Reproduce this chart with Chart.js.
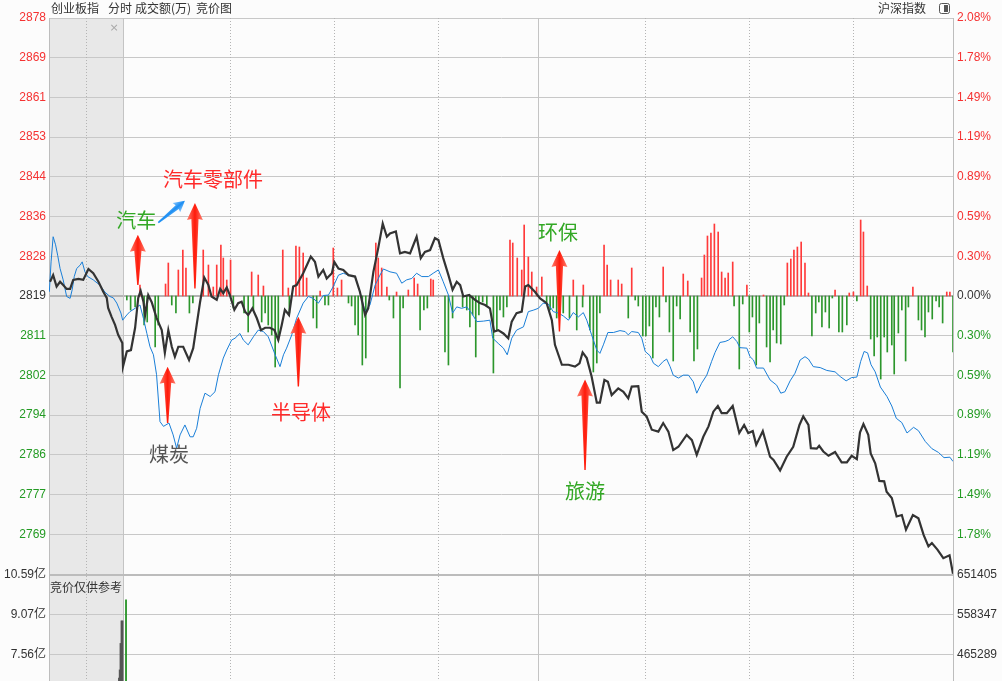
<!DOCTYPE html>
<html>
<head>
<meta charset="utf-8">
<script src="https://cdn.jsdelivr.net/npm/chart.js@4.4.1/dist/chart.umd.min.js"></script>
<style>
  html, body { margin: 0; padding: 0; background: #fcfcfc; overflow: hidden; }
  #wrap { position: relative; width: 1002px; height: 681px; }
</style>
</head>
<body>
<div id="wrap"><canvas id="fenshi" width="1002" height="681"></canvas></div>
<script>
// ---- data ----
const preClose = 2819.4;
const priceTop = 2878.04;
const priceLow = 2760.76;
const priceLabels = ['2878', '2869', '2861', '2853', '2844', '2836', '2828', '2819',
                     '2811', '2802', '2794', '2786', '2777', '2769'];
const pctLabels = ['2.08%', '1.78%', '1.49%', '1.19%', '0.89%', '0.59%', '0.30%', '0.00%',
                   '0.30%', '0.59%', '0.89%', '1.19%', '1.49%', '1.78%'];
const volTicks = [10.59, 9.07, 7.56];
const volLabels = ['10.59亿', '9.07亿', '7.56亿'];
const volRightLabels = ['651405', '558347', '465289'];

// minute (9:30 = 0, auction < 0), price
const indexAuction = [[-21.1,2822.4],[-20.2,2823.8],[-19.2,2821.4],[-18.2,2822.4],[-17.3,2821.7],[-16.3,2820.9],
  [-15.3,2820.9],[-14.4,2822.8],[-12.9,2823.0],[-11.5,2822.8],[-10.0,2825.1],[-8.6,2824.2],[-7.1,2822.4],
  [-5.7,2820.3],[-4.7,2819.0],[-4.3,2816.9],[-3.3,2815.0],[-2.3,2813.3],[-1.4,2811.2],[-0.2,2809.5]];
const indexTrade = [[0,2804.5],[1.1,2807.7],[2.3,2808.0],[3.5,2812.7],[4.4,2819.0],[5.1,2820.5],[5.9,2818.2],
  [6.4,2815.4],[7.3,2819.6],[8.3,2818.1],[9.7,2814.8],[11.2,2812.2],[12.1,2807.4],[13.1,2812.2],[14.1,2808.7],
  [15.0,2806.6],[16.0,2808.7],[17.4,2808.7],[19.1,2805.9],[20.3,2808.4],[21.3,2813.3],[22.3,2818.2],[23.5,2823.3],
  [24.7,2821.7],[25.6,2819.3],[27.1,2818.6],[28.1,2820.9],[29.0,2820.0],[30.0,2821.2],[30.9,2819.6],[32.2,2816.5],
  [33.3,2817.9],[34.3,2818.2],[35.3,2816.1],[36.2,2815.4],[37.4,2816.8],[38.7,2814.7],[39.9,2812.2],[41.1,2812.7],
  [42.5,2812.7],[43.8,2812.2],[44.9,2810.1],[45.9,2813.3],[46.8,2816.5],[48.0,2815.4],[49.2,2821.4],[50.2,2821.7],
  [52.1,2824.2],[54.3,2827.7],[55.5,2826.6],[56.5,2823.5],[57.9,2824.9],[58.9,2823.1],[60.4,2824.2],[61.1,2826.6],
  [62.3,2825.2],[63.7,2824.9],[65.2,2823.8],[67.1,2823.5],[68.5,2820.3],[70.0,2815.4],[70.9,2816.8],[72.4,2824.5],
  [73.8,2829.5],[75.1,2834.7],[76.3,2831.9],[77.2,2832.6],[78.9,2833.0],[80.1,2828.4],[81.5,2828.7],[83.0,2828.4],
  [84.9,2831.9],[86.1,2827.4],[87.3,2828.7],[88.8,2829.1],[90.2,2831.6],[91.2,2831.2],[92.6,2827.4],[94.1,2823.8],
  [95.3,2820.7],[96.5,2822.4],[97.5,2821.7],[98.4,2819.3],[100.1,2819.6],[101.8,2818.6],[103.2,2817.9],[104.7,2817.5],
  [106.1,2816.8],[107.3,2811.9],[108.5,2812.2],[110.0,2811.5],[111.4,2810.5],[112.4,2814.0],[113.8,2815.8],
  [115.3,2816.1],[116.3,2821.4],[117.2,2821.7],[119.1,2820.3],[120.6,2818.9],[122.5,2817.9],[124.0,2814.3],
  [124.9,2809.1],[126.9,2804.9],[128.8,2804.9],[130.7,2804.5],[132.0,2805.2],[132.9,2807.5],[134.1,2806.3],
  [135.5,2802.4],[137.0,2796.9],[137.9,2796.9],[139.2,2801.7],[140.2,2801.3],[141.3,2798.5],[143.2,2799.9],
  [144.7,2799.2],[146.1,2797.8],[147.1,2800.3],[149.0,2800.4],[150.0,2795.0],[151.4,2794.0],[152.9,2791.2],
  [154.8,2790.8],[156.2,2792.6],[157.7,2790.8],[159.1,2786.9],[160.6,2787.6],[163.0,2790.1],[164.5,2789.0],
  [165.9,2785.9],[167.8,2789.7],[169.3,2791.9],[170.7,2795.0],[172.0,2796.2],[173.1,2794.7],[174.6,2794.7],
  [176.3,2796.2],[178.2,2790.5],[179.6,2792.2],[180.8,2790.5],[182.1,2790.9],[183.1,2788.0],[185.0,2790.9],
  [187.1,2785.5],[188.1,2784.8],[190.0,2782.6],[191.9,2785.5],[193.8,2787.6],[195.6,2792.2],[196.7,2794.0],
  [198.2,2792.2],[198.9,2787.3],[200.6,2787.2],[201.3,2787.8],[202.5,2786.6],[204.0,2785.7],[205.9,2786.5],
  [207.8,2784.3],[209.3,2784.3],[210.7,2785.7],[212.2,2785.0],[213.1,2790.6],[214.1,2792.4],[215.5,2790.1],
  [216.2,2786.2],[217.5,2784.1],[218.7,2780.4],[220.1,2780.3],[220.8,2778.1],[222.3,2776.8],[223.7,2772.9],
  [225.2,2773.2],[226.4,2770.1],[228.4,2773.2],[230.0,2772.5],[231.5,2769.0],[232.9,2766.6],[233.9,2767.3],
  [235.5,2765.9],[237.2,2764.1],[239.0,2764.7],[240,2760.8]];

const leadAuction = [[-21.3,2820.3],[-20.8,2826.6],[-20.2,2831.9],[-19.5,2830.2],[-18.9,2828.0],[-18.2,2825.2],
  [-17.3,2822.8],[-16.3,2819.3],[-15.3,2818.9],[-14.7,2820.7],[-14.1,2823.5],[-13.4,2825.2],[-12.4,2825.9],
  [-11.8,2826.6],[-11.0,2824.5],[-10.2,2823.5],[-8.6,2822.8],[-6.7,2821.7],[-5.2,2820.2],[-3.8,2819.3],
  [-2.8,2819.0],[-1.8,2817.9],[-0.6,2815.8],[-0.1,2814.3]];
const leadTrade = [[1.1,2815.4],[2.0,2816.1],[3.5,2816.8],[4.9,2817.5],[5.9,2814.7],[6.9,2811.5],[7.8,2808.7],
  [8.8,2807.0],[9.7,2802.8],[10.7,2792.9],[11.7,2791.9],[13.3,2792.6],[14.5,2790.1],[15.5,2787.3],[16.5,2790.1],
  [17.9,2792.2],[19.4,2789.7],[20.3,2789.7],[21.3,2791.5],[22.3,2795.7],[23.7,2798.9],[25.2,2798.2],[26.6,2799.2],
  [27.6,2802.8],[29.0,2806.3],[30.0,2808.0],[31.4,2810.1],[32.4,2810.5],[33.8,2811.5],[34.8,2810.1],[36.2,2809.1],
  [37.7,2810.8],[39.1,2812.2],[40.6,2811.9],[42.0,2810.8],[44.0,2807.0],[45.4,2804.5],[46.4,2807.0],[47.3,2808.4],
  [48.8,2811.2],[50.2,2814.7],[52.1,2817.9],[53.6,2819.3],[55.0,2818.9],[56.5,2817.9],[57.9,2819.5],[59.4,2819.6],
  [60.8,2821.4],[62.3,2823.8],[63.7,2824.2],[65.2,2823.8],[67.1,2823.5],[68.5,2820.3],[70.0,2816.1],[71.4,2817.5],
  [72.9,2821.7],[74.3,2823.8],[75.3,2825.1],[77.2,2824.5],[79.1,2824.2],[80.6,2822.1],[82.0,2822.8],[83.5,2823.1],
  [84.9,2824.2],[86.4,2823.5],[88.3,2823.5],[89.7,2824.2],[91.2,2824.9],[92.6,2822.4],[94.1,2819.6],[95.3,2815.8],
  [96.5,2817.1],[97.9,2816.8],[99.4,2817.1],[100.8,2815.8],[102.3,2814.0],[104.2,2814.1],[106.1,2814.3],
  [106.9,2810.5],[108.5,2809.4],[110.0,2808.4],[111.1,2807.0],[112.4,2810.5],[113.8,2812.2],[115.8,2812.9],
  [117.2,2816.1],[118.6,2816.4],[120.1,2816.8],[121.5,2817.9],[123.0,2817.7],[124.4,2816.1],[125.9,2815.8],
  [127.3,2815.2],[128.8,2814.3],[130.2,2815.9],[131.7,2815.0],[133.1,2815.9],[134.1,2814.3],[135.5,2811.2],
  [137.0,2808.0],[137.9,2807.3],[138.9,2809.1],[140.2,2811.7],[141.8,2811.7],[143.7,2812.1],[145.2,2811.9],
  [146.1,2811.2],[147.1,2811.9],[149.0,2811.7],[150.0,2810.5],[151.0,2807.7],[152.4,2806.8],[153.4,2805.2],
  [154.8,2804.5],[156.2,2805.6],[157.2,2806.1],[158.2,2804.5],[159.1,2802.7],[160.6,2802.1],[162.0,2802.7],
  [163.5,2802.7],[164.9,2801.3],[165.9,2798.9],[167.3,2801.0],[168.8,2802.7],[170.2,2805.6],[171.2,2807.5],
  [172.6,2809.6],[174.1,2809.8],[175.1,2810.1],[176.3,2810.8],[177.5,2809.8],[178.4,2808.5],[180.4,2808.4],
  [181.3,2806.6],[182.3,2805.9],[183.2,2804.2],[185.2,2804.2],[187.1,2801.7],[189.0,2800.6],[190.2,2798.9],
  [191.4,2799.2],[192.9,2801.5],[194.3,2803.1],[195.8,2805.9],[197.2,2806.6],[198.2,2806.1],[199.6,2804.5],
  [201.6,2804.3],[203.5,2803.7],[205.9,2803.4],[207.4,2802.4],[209.1,2801.5],[210.7,2802.2],[212.2,2802.3],
  [213.3,2805.6],[214.3,2807.7],[215.3,2807.4],[216.3,2804.9],[217.5,2803.4],[219.0,2800.2],[220.9,2798.2],
  [222.3,2796.2],[223.6,2793.6],[225.2,2792.7],[226.7,2790.5],[228.6,2791.7],[230.0,2791.0],[232.0,2788.7],
  [233.9,2787.2],[235.8,2786.4],[237.4,2785.3],[239.1,2785.4],[240,2784.5]];

// buy/sell strength bars around the zero line (minute, strength)
const flowUp = [[4.9,11],[12.3,12],[13.1,33],[16.0,26],[17.3,46],[18.2,28],[23.2,46],[24.7,31],[26.1,9],[27.1,31],
  [28.3,51],[29.0,38],[30.0,16],[31.1,36],[37.2,24],[39.1,21],[40.6,10],[46.2,46],[47.8,8],[50.0,50],[51.0,49],
  [52.1,43],[53.1,18],[57.0,5],[60.8,48],[62.0,8],[63.2,16],[73.1,53],[73.8,38],[74.8,28],[76.3,9],[79.1,4],[82.5,6],
  [84.2,18],[85.2,12],[89.0,17],[89.7,16],[111.9,56],[112.7,53],[114.0,38],[115.3,26],[116.0,71],[117.2,39],
  [118.2,24],[119.6,9],[121.1,19],[130.2,16],[133.1,11],[139.1,51],[140.0,31],[141.0,16],[143.2,16],[144.2,12],
  [147.1,28],[156.2,29],[162.0,22],[163.3,15],[167.3,18],[168.1,41],[169.0,60],[170.0,63],[171.0,72],[172.1,64],
  [173.1,24],[174.1,18],[175.0,23],[176.3,34],[180.4,11],[185.2,1],[192.1,33],[193.1,37],[194.0,46],[195.0,49],
  [196.1,54],[197.2,33],[198.2,3],[205.9,6],[210.0,3],[211.2,4],[213.3,76],[214.1,64],[215.2,10],[228.4,9],
  [238.2,4],[239.1,4]];
const flowDown = [[1.1,-4],[2.2,-14],[3.5,-11],[6.1,-29],[7.0,-26],[9.3,-51],[10.2,-29],[14.1,-9],[15.3,-17],
  [19.2,-17],[20.2,-7],[31.9,-12],[35.0,-17],[36.2,-36],[37.7,-14],[40.1,-26],[41.1,-17],[42.0,-29],[43.0,-39],
  [44.0,-71],[44.9,-44],[48.1,-17],[55.0,-22],[56.0,-32],[58.4,-9],[59.4,-9],[65.2,-7],[66.1,-10],[67.1,-29],
  [68.0,-39],[69.2,-69],[70.2,-62],[77.0,-4],[78.2,-22],[80.1,-92],[81.0,-12],[85.9,-34],[87.0,-14],[88.0,-12],
  [93.1,-56],[94.1,-69],[95.3,-22],[98.2,-11],[99.4,-14],[100.3,-31],[101.1,-19],[102.0,-61],[102.9,-19],[104.0,-6],
  [105.2,-9],[107.1,-77],[108.1,-34],[109.0,-14],[110.0,-21],[111.0,-11],[122.5,-6],[123.5,-14],[124.4,-12],
  [125.4,-22],[127.3,-17],[129.1,-22],[131.2,-34],[132.9,-11],[135.0,-34],[136.0,-76],[137.0,-67],[137.9,-17],
  [146.1,-22],[148.1,-4],[149.0,-10],[150.3,-40],[151.2,-40],[152.2,-30],[153.2,-62],[154.1,-11],[155.1,-21],
  [157.0,-6],[158.0,-36],[159.1,-65],[160.1,-10],[161.1,-23],[164.0,-36],[165.1,-65],[166.1,-53],[176.7,-10],
  [178.2,-73],[179.2,-8],[181.1,-36],[182.0,-21],[183.1,-69],[184.0,-27],[186.1,-51],[187.1,-66],[188.0,-34],
  [189.0,-47],[190.2,-48],[191.2,-9],[199.2,-40],[200.3,-17],[201.2,-6],[202.1,-31],[203.1,-16],[204.2,-32],
  [205.1,-2],[207.0,-36],[208.0,-36],[209.3,-29],[212.2,-5],[216.2,-43],[217.2,-60],[218.1,-41],[219.1,-83],
  [220.1,-41],[221.0,-56],[222.3,-49],[223.0,-78],[224.2,-37],[225.2,-14],[226.3,-65],[227.1,-11],[230.0,-24],
  [230.9,-34],[231.9,-41],[232.9,-16],[234.0,-23],[235.1,-5],[236.0,-11],[237.0,-27],[240.0,-56]];

// turnover (亿), only the part visible in the lower panel
const volAuction = [[-1.16,6.66],[-0.95,6.97],[-0.72,7.98],[-0.43,8.84],[-0.14,8.84]];
const volTrade = [[0.87,9.64]];

// time grid (minutes)
const dottedMinutes = [-10.7, 31, 61, 91, 151, 181, 211];
const solidMinutes = [0, 120];

// sector notes: text, anchor (minute, price); arrows tail -> tip
const noteTexts = ['汽车零部件', '汽车', '煤炭', '半导体', '环保', '旅游'];
const noteAnchors = [[26.0,2843.9],[3.8,2835.4],[13.3,2785.9],[51.5,2794.9],[125.8,2832.9],[133.6,2778.1]];
const upArrows = [[4.3,2821.7,2832.3],[20.8,2821.0,2839.0],[12.9,2792.6,2804.5],
                  [50.7,2800.3,2815.0],[126.2,2811.9,2829.1],[133.6,2782.7,2801.8]];
const blueArrow = [[10.2,2834.9],[17.9,2839.5]];

// ---- layout (pixels) ----
const TOP = 18, PRICE_BOTTOM = 574, BOTTOM = 681, ZERO = 296, VOL_TOP_PX = 575;
const pricePerPx = (priceTop - priceLow) / (PRICE_BOTTOM - TOP);
const yMin = priceTop - pricePerPx * (BOTTOM - TOP);
const rowPx = (PRICE_BOTTOM - TOP) / 14;
const volPerPx = (volTicks[0] - volTicks[2]) / (2 * rowPx);
const volMax = volTicks[0] + (VOL_TOP_PX - TOP) * volPerPx;
const volMin = volTicks[0] - (BOTTOM - VOL_TOP_PX) * volPerPx;
const priceStep = (priceTop - priceLow) / 14;

const RED = '#f53232', GREEN = '#239b23', DARK = '#333333';
const FONT = {family: '"Liberation Sans", "Noto Sans CJK SC", sans-serif', size: 12};
const FONT_CSS = '12px "Liberation Sans", "Noto Sans CJK SC", sans-serif';

const pts = (arr) => arr.map(([x, y]) => ({x, y}));
const rowOf = (v) => Math.round((priceTop - v) / priceStep);
const rowColor = (k) => k < 7 ? RED : (k === 7 ? DARK : GREEN);

function priceTicks(axis) {
  const t = [];
  for (let k = 14; k >= 0; k--) t.push({value: priceTop - k * priceStep});
  axis.ticks = t;
}
function noPad(axis, w) {
  axis.width = w;
  axis.paddingTop = 0;
  axis.paddingBottom = 0;
}

function drawArrow(ctx, tx, ty, bx, by, o) {
  const len = Math.hypot(bx - tx, by - ty);
  const ang = Math.atan2(by - ty, bx - tx) - Math.PI / 2;
  ctx.save();
  ctx.translate(tx, ty);
  ctx.rotate(ang);
  const g = ctx.createLinearGradient(-o.head, 0, o.head, 0);
  g.addColorStop(0, o.edge);
  g.addColorStop(0.5, o.core);
  g.addColorStop(1, o.edge);
  ctx.fillStyle = g;
  ctx.beginPath();
  ctx.moveTo(0, 0);
  ctx.lineTo(o.head, o.headLen);
  ctx.lineTo(o.neck, o.headLen - 1);
  ctx.lineTo(o.tail, len);
  ctx.lineTo(-o.tail, len);
  ctx.lineTo(-o.neck, o.headLen - 1);
  ctx.lineTo(-o.head, o.headLen);
  ctx.closePath();
  ctx.fill();
  ctx.restore();
}

const decor = {
  id: 'decor',
  beforeDraw(chart) {
    const {ctx, chartArea: a, scales: {x}} = chart;
    ctx.save();
    ctx.fillStyle = '#fcfcfc';
    ctx.fillRect(0, 0, chart.width, chart.height);
    const x0 = x.getPixelForValue(x.min), x1 = x.getPixelForValue(0);
    ctx.fillStyle = '#e8e8e8';
    ctx.fillRect(x0, a.top, x1 - x0, a.bottom - a.top);
    ctx.restore();
  },
  beforeDatasetsDraw(chart) {
    const {ctx, chartArea: a, scales: {x, yv}} = chart;
    ctx.save();
    ctx.lineWidth = 1;
    ctx.strokeStyle = '#b4b4b4';
    ctx.setLineDash([1, 2]);
    dottedMinutes.forEach(m => {
      const px = Math.round(x.getPixelForValue(m)) + 0.5;
      ctx.beginPath(); ctx.moveTo(px, a.top); ctx.lineTo(px, a.bottom); ctx.stroke();
    });
    ctx.setLineDash([]);
    ctx.strokeStyle = '#c4c4c4';
    solidMinutes.forEach(m => {
      const px = Math.round(x.getPixelForValue(m)) + 0.5;
      ctx.beginPath(); ctx.moveTo(px, a.top); ctx.lineTo(px, a.bottom); ctx.stroke();
    });
    // panel separator
    const sy = yv.getPixelForValue(volTicks[0]);
    ctx.strokeStyle = '#bcbcbc';
    ctx.lineWidth = 2;
    ctx.beginPath(); ctx.moveTo(a.left, sy); ctx.lineTo(a.right, sy); ctx.stroke();
    ctx.restore();
  },
  afterDatasetsDraw(chart) {
    const {ctx, chartArea: a, scales: {x, y, yv}} = chart;
    ctx.save();
    const red = {head: 8, headLen: 17, neck: 3.6, tail: 0.7, core: '#ff1a0a', edge: '#ff8070'};
    upArrows.forEach(([m, pTail, pTip]) => {
      const px = x.getPixelForValue(m);
      drawArrow(ctx, px, y.getPixelForValue(pTip), px, y.getPixelForValue(pTail), red);
    });
    const blue = {head: 6, headLen: 11, neck: 2.4, tail: 0.8, core: '#1c8ef2', edge: '#8cc8ff'};
    drawArrow(ctx, x.getPixelForValue(blueArrow[1][0]), y.getPixelForValue(blueArrow[1][1]),
              x.getPixelForValue(blueArrow[0][0]), y.getPixelForValue(blueArrow[0][1]), blue);

    const noteColors = ['#ff2a2a', '#33a825', '#555555', '#ff2a2a', '#33a825', '#33a825'];
    ctx.font = '20px "Noto Sans CJK SC", sans-serif';
    ctx.textAlign = 'center';
    ctx.textBaseline = 'middle';
    noteTexts.forEach((t, i) => {
      ctx.fillStyle = noteColors[i];
      ctx.fillText(t, x.getPixelForValue(noteAnchors[i][0]), y.getPixelForValue(noteAnchors[i][1]));
    });

    // header row
    ctx.font = '12px "Noto Sans CJK SC", sans-serif';
    ctx.fillStyle = DARK;
    ctx.textAlign = 'left';
    [['创业板指', 51], ['分时', 108], ['成交额(万)', 135], ['竞价图', 196]].forEach(([t, px]) => ctx.fillText(t, px, 8));
    ctx.textAlign = 'right';
    ctx.fillText('沪深指数', 926, 8);
    ctx.strokeStyle = '#555';
    ctx.lineWidth = 1;
    ctx.beginPath(); ctx.roundRect(939.5, 3.5, 10, 10, 2); ctx.stroke();
    ctx.fillStyle = '#555';
    ctx.fillRect(944, 5, 4, 7);

    // auction panel marks
    ctx.fillStyle = '#a8a8a8';
    ctx.font = '11px "DejaVu Sans", sans-serif';
    ctx.textAlign = 'center';
    ctx.fillText('×', 114, 28);
    ctx.fillStyle = DARK;
    ctx.font = '12px "Noto Sans CJK SC", sans-serif';
    ctx.textAlign = 'left';
    ctx.fillText('竞价仅供参考', a.left + 1, 587);

    // turnover axis labels, both sides
    ctx.font = FONT_CSS;
    ctx.fillStyle = DARK;
    volTicks.forEach((v, i) => {
      const py = yv.getPixelForValue(v);
      ctx.textAlign = 'right';
      ctx.fillText(volLabels[i], a.left - 3, py);
      ctx.textAlign = 'left';
      ctx.fillText(volRightLabels[i], a.right + 4, py);
    });
    ctx.restore();
  }
};

const ctx = document.getElementById('fenshi').getContext('2d');
new Chart(ctx, {
  type: 'line',
  data: {
    datasets: [
      {
        label: '创业板指',
        data: pts(indexAuction.concat(indexTrade)),
        borderColor: '#333333',
        borderWidth: 2.2,
        pointRadius: 0,
        yAxisID: 'y',
        order: 0
      },
      {
        label: '沪深指数',
        data: pts(leadAuction.concat(leadTrade)),
        borderColor: '#1a7fd8',
        borderWidth: 1,
        pointRadius: 0,
        yAxisID: 'y',
        order: 1
      },
      {
        type: 'bar',
        label: 'flow',
        data: pts(flowUp.concat(flowDown)),
        backgroundColor: (c) => (c.raw && c.raw.y >= 0) ? '#ff3a3a' : '#2c962c',
        barThickness: 1,
        grouped: false,
        yAxisID: 'ys',
        order: 5
      },
      {
        type: 'bar',
        label: '成交额',
        data: pts(volAuction.concat(volTrade)),
        backgroundColor: (c) => (c.raw && c.raw.x < 0) ? '#555555' : '#2c962c',
        barThickness: 1.2,
        grouped: false,
        yAxisID: 'yv',
        order: 6
      }
    ]
  },
  options: {
    responsive: false,
    animation: false,
    layout: {padding: {top: TOP, left: 0, right: 0, bottom: 0}},
    plugins: {legend: {display: false}, tooltip: {enabled: false}},
    scales: {
      x: {type: 'linear', display: false, offset: false, min: -21.4, max: 240},
      y: {
        position: 'left', weight: 1, min: yMin, max: priceTop,
        afterBuildTicks: priceTicks,
        afterFit: (s) => noPad(s, 49),
        grid: {
          drawTicks: false,
          color: (c) => rowOf(c.tick.value) === 7 ? '#b4b4b4' : '#c8c8c8',
          lineWidth: (c) => rowOf(c.tick.value) === 7 ? 2 : 1
        },
        border: {display: true, color: '#bdbdbd', width: 1},
        ticks: {
          autoSkip: false, padding: 3, font: FONT,
          color: (c) => rowColor(rowOf(c.tick.value)),
          callback: (v) => priceLabels[rowOf(v)] || ''
        }
      },
      yr: {
        position: 'right', weight: 1, min: yMin, max: priceTop,
        afterBuildTicks: priceTicks,
        afterFit: (s) => noPad(s, 49),
        grid: {drawOnChartArea: false, drawTicks: false},
        border: {display: true, color: '#bdbdbd', width: 1},
        ticks: {
          autoSkip: false, padding: 4, font: FONT,
          color: (c) => rowColor(rowOf(c.tick.value)),
          callback: (v) => pctLabels[rowOf(v)] || ''
        }
      },
      yv: {
        position: 'left', weight: 0, min: volMin, max: volMax,
        afterBuildTicks: (s) => { s.ticks = volTicks.map(v => ({value: v})); },
        afterFit: (s) => noPad(s, 0),
        grid: {drawTicks: false, color: '#c8c8c8'},
        border: {display: false},
        ticks: {display: false}
      },
      ys: {display: false, min: -(BOTTOM - ZERO), max: ZERO - TOP}
    }
  },
  plugins: [decor]
});
</script>
</body>
</html>
